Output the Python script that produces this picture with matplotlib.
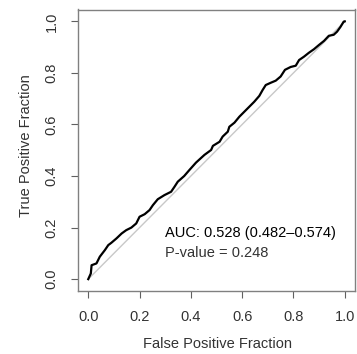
import matplotlib
matplotlib.use("Agg")
import matplotlib.pyplot as plt
import numpy as np

plt.rcParams['font.family'] = ['Liberation Sans', 'DejaVu Sans']

# ROC curve
fpr = [0.0, 0.01, 0.013, 0.032, 0.045, 0.065, 0.078, 0.09, 0.11, 0.13, 0.148, 0.168,
       0.187, 0.2, 0.22, 0.239, 0.252, 0.271, 0.297, 0.323, 0.336, 0.349, 0.374, 0.394,
       0.42, 0.453, 0.479, 0.486, 0.512, 0.524, 0.544, 0.55, 0.57, 0.589, 0.609, 0.628,
       0.647, 0.667, 0.68, 0.692, 0.712, 0.731, 0.75, 0.767, 0.789, 0.809, 0.822, 0.841,
       0.86, 0.88, 0.899, 0.919, 0.938, 0.957, 0.97, 0.983, 0.996, 1.0]
tpr = [0.0, 0.022, 0.054, 0.061, 0.087, 0.113, 0.132, 0.141, 0.158, 0.177, 0.19, 0.20,
       0.216, 0.242, 0.252, 0.268, 0.287, 0.31, 0.326, 0.339, 0.358, 0.378, 0.40, 0.423,
       0.452, 0.482, 0.501, 0.517, 0.533, 0.553, 0.572, 0.591, 0.607, 0.63, 0.65, 0.669,
       0.688, 0.711, 0.734, 0.753, 0.762, 0.77, 0.786, 0.812, 0.823, 0.828, 0.85, 0.863,
       0.878, 0.892, 0.908, 0.924, 0.944, 0.948, 0.96, 0.978, 0.999, 1.0]
ticks = [0.0, 0.2, 0.4, 0.6, 0.8, 1.0]
auc_text = "AUC: 0.528 (0.482\u20130.574)"
p_text = "P-value = 0.248"

fig = plt.figure(figsize=(3.57, 3.54), dpi=100)
ax = fig.add_axes([78/357, 63/354, 277/357, 281.5/354])

ax.plot([0, 1], [0, 1], color='#c8c8c8', lw=1.0)
ax.plot(fpr, tpr, color='black', lw=1.6)

ax.set_xlim(-0.04, 1.04)
ax.set_ylim(-0.046, 1.046)
ax.set_xticks(ticks)
ax.set_yticks(ticks)
ax.set_xticklabels([f"{t:.1f}" for t in ticks])
ax.set_yticklabels([f"{t:.1f}" for t in ticks], rotation=90, va='center')
ax.tick_params(direction='out', length=5, width=0.8, color='#606060',
               labelcolor='#333333', labelsize=10.5, pad=9)
for s in ax.spines.values():
    s.set_color('#808080')
    s.set_linewidth(1.0)

ax.set_xlabel("False Positive Fraction", fontsize=10.5, color='#333333', va='center')
ax.xaxis.set_label_coords(0.502, -0.188)
ax.set_ylabel("True Positive Fraction", fontsize=10.5, color='#333333', va='center')
ax.yaxis.set_label_coords(-0.188, 0.515)

ax.text(0.298, 0.179, auc_text, fontsize=10.5, color='black', va='center', ha='left')
ax.text(0.298, 0.10, p_text, fontsize=10.5, color='#333333', va='center', ha='left')

fig.savefig("out.png", dpi=100)
